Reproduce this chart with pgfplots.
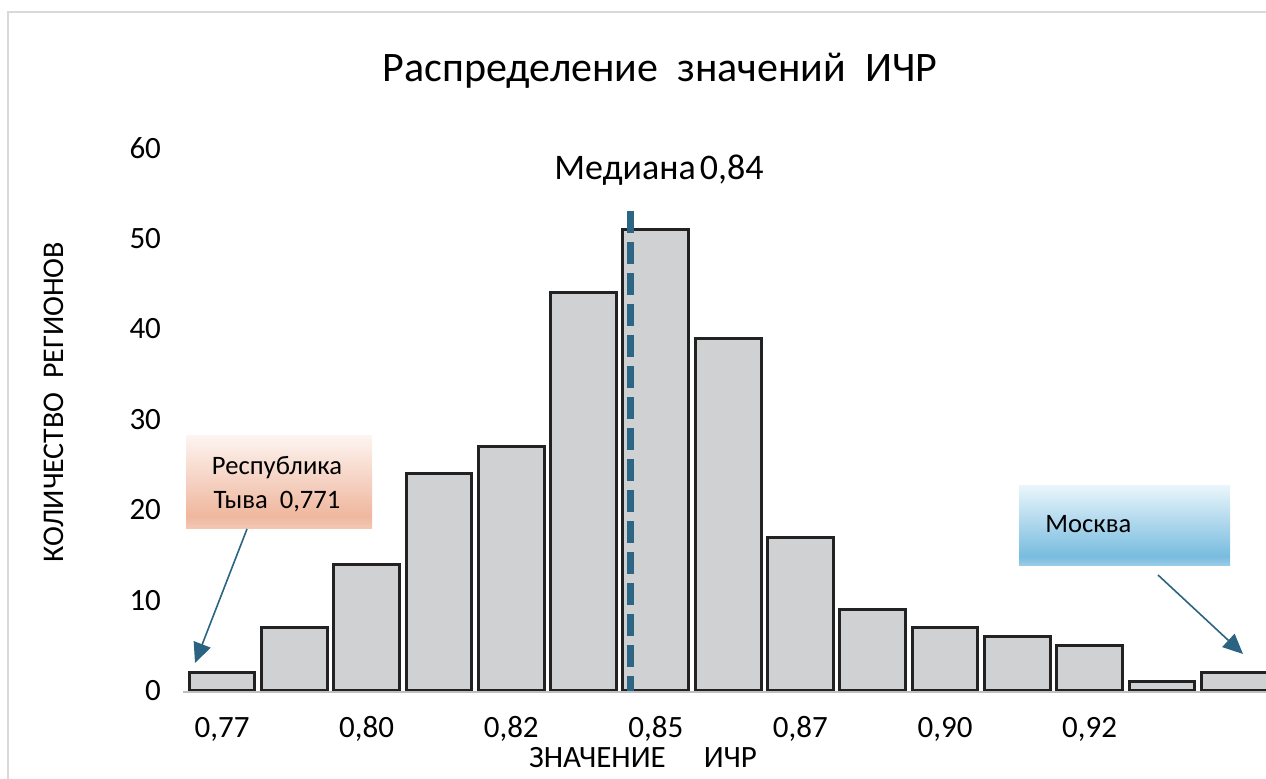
\documentclass[border=0pt]{standalone}
\usepackage{fontspec}
\setmainfont{Carlito}
\usepackage{pgfplots}
\pgfplotsset{compat=1.18}
\usetikzlibrary{arrows.meta}

\definecolor{barfill}{HTML}{D0D1D3}
\definecolor{baredge}{HTML}{222222}
\definecolor{arrowc}{HTML}{2B6482}
\definecolor{medc}{HTML}{2D6685}
\definecolor{framec}{HTML}{D9D9D9}
\definecolor{axc}{HTML}{BFBFBF}
\definecolor{tyvaT}{HTML}{FDF4F0}
\definecolor{tyvaM}{HTML}{EFB79E}
\definecolor{tyvaB}{HTML}{F4C8B4}
\definecolor{mskT}{HTML}{E9F5FB}
\definecolor{mskM}{HTML}{78BCDF}
\definecolor{mskB}{HTML}{9CCFE8}
\pgfdeclareverticalshading{tyva}{100bp}{color(0bp)=(tyvaB); color(25bp)=(tyvaB); color(32bp)=(tyvaM); color(75bp)=(tyvaT); color(100bp)=(tyvaT)}
\pgfdeclareverticalshading{msk}{100bp}{color(0bp)=(mskB); color(25bp)=(mskB); color(31bp)=(mskM); color(75bp)=(mskT); color(100bp)=(mskT)}

\begin{document}
\begin{tikzpicture}
\path[use as bounding box] (0,0) rectangle (633pt,389.5pt);

\begin{axis}[
    at={(91.5pt,44pt)}, anchor=south west,
    scale only axis, width=541.5pt, height=271.5pt,
    xmin=-0.54, xmax=14.44, ymin=0, ymax=60,
    axis line style={draw=none},
    major tick length=0pt, tick style={draw=none},
    ytick={0,10,...,60},
    xtick={0,2,...,12},
    xticklabels={{0,77},{0,80},{0,82},{0,85},{0,87},{0,90},{0,92}},
    tick label style={font=\fontsize{15.5}{18}\selectfont},
    /pgf/number format/assume math mode=true,
    yticklabel style={anchor=east, xshift=-7.5pt},
    xticklabel style={anchor=base, yshift=-23.5pt},
]
% histogram counts
\addplot[ybar, bar width=0.91, bar shift=0pt, fill=barfill, draw=baredge, line width=1.5pt]
coordinates {
    (0,2) (1,7) (2,14) (3,24) (4,27) (5,44) (6,51) (7,39)
    (8,17) (9,9) (10,7) (11,6) (12,5) (13,1) (14,2)
};
% median
\addplot[medc, line width=3.5pt, dash pattern=on 11pt off 4.5pt]
coordinates {(5.65,53) (5.65,0)};
\end{axis}

\begin{scope}[x=0.5pt, y=-0.5pt, shift={(0pt,389.5pt)}]
\draw[framec, line width=1pt] (8,779) -- (8,12) -- (1266,12);
\draw[axc, line width=1pt] (183,692) -- (1266,692);

\node[anchor=base, font=\fontsize{21}{25}\selectfont] at (660,82) {Распределение\ \ значений\ \ ИЧР};
\node[anchor=base, font=\fontsize{18}{22}\selectfont] at (659,180) {Медиана\hspace{2pt}0,84};

\node[anchor=base, font=\fontsize{15.5}{18}\selectfont] at (643,768) {ЗНАЧЕНИЕ\quad\ ИЧР};
\node[rotate=90, font=\fontsize{15}{18}\selectfont] at (54,402) {КОЛИЧЕСТВО\ \ РЕГИОНОВ};

\shade[shading=tyva] (186,436) rectangle (372,529);
\node[anchor=base, font=\fontsize{13.3}{16}\selectfont] at (277,475) {Республика};
\node[anchor=base, font=\fontsize{13.3}{16}\selectfont] at (277,509) {Тыва\ \ 0,771};

\shade[shading=msk] (1019,486) rectangle (1230,566);
\node[anchor=base west, inner sep=0pt, font=\fontsize{13.3}{16}\selectfont] at (1045,533) {Москва};

\draw[arrowc, line width=0.8pt, -{Triangle[length=10pt,width=9pt]}] (247,529) -- (195,663);
\draw[arrowc, line width=0.8pt, -{Triangle[length=10pt,width=9pt]}] (1158,575) -- (1243,654);
\end{scope}
\end{tikzpicture}
\end{document}
